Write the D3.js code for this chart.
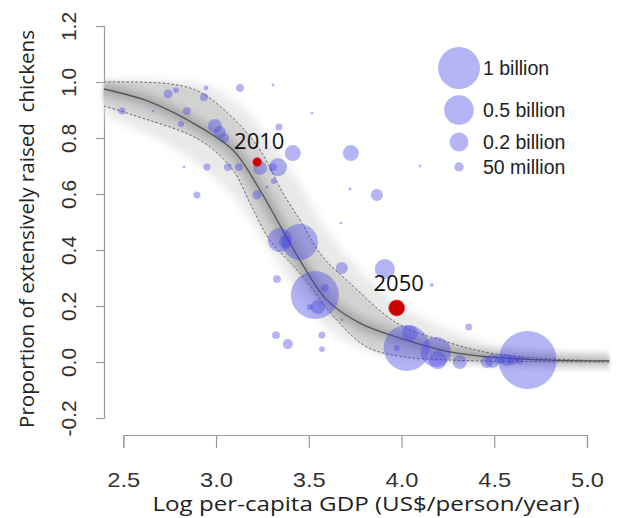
<!DOCTYPE html>
<html><head><meta charset="utf-8">
<script src="https://cdn.jsdelivr.net/npm/d3@7"></script>
<style>body{margin:0;background:#fff}svg{display:block}</style>
</head><body>
<svg id="chart" width="617" height="518"></svg>
<script>
// Axis ticks
const xTicks = [2.5, 3.0, 3.5, 4.0, 4.5, 5.0];
const yTicks = [-0.2, 0.0, 0.2, 0.4, 0.6, 0.8, 1.0, 1.2];

// Fitted curve (posterior median) and its credible bounds: [log GDP, proportion]
const medianCurve = [[2.396,0.975],[2.644,0.929],[2.913,0.839],[3.091,0.757],[3.237,0.614],[3.344,0.489],[3.452,0.364],[3.598,0.221],[3.775,0.139],[3.975,0.089],[4.261,0.036],[4.476,0.018],[4.80,0.007],[5.12,0.004]];
const upperBound = [[2.396,1.0],[2.752,0.993],[2.913,0.964],[3.091,0.871],[3.237,0.757],[3.360,0.604],[3.452,0.507],[3.576,0.375],[3.721,0.282],[3.975,0.139],[4.261,0.068],[4.476,0.032],[4.80,0.011],[5.12,0.004]];
const lowerBound = [[2.396,0.914],[2.552,0.882],[2.913,0.793],[3.091,0.686],[3.183,0.568],[3.290,0.436],[3.452,0.318],[3.651,0.150],[3.813,0.054],[3.991,0.021],[4.261,0.007],[5.12,0.0]];
// Faint spread of posterior draws
const upperSpread = [[2.396,1.0],[2.913,0.993],[3.129,0.918],[3.290,0.793],[3.452,0.632],[3.614,0.454],[3.775,0.329],[3.991,0.204],[4.261,0.114],[4.530,0.054],[5.12,0.014]];
const lowerSpread = [[2.396,0.879],[2.644,0.811],[2.913,0.704],[3.129,0.561],[3.290,0.400],[3.452,0.239],[3.614,0.114],[3.830,0.036],[4.100,0.004],[5.12,0.0]];

// Countries: log per-capita GDP, proportion extensive, chicken population
const countryGdp  = [2.493,2.660,2.741,2.784,2.946,2.935,3.129,3.307,2.843,2.811,2.994,3.021,3.043,3.339,3.517,3.414,3.727,3.334,3.237,3.307,3.064,3.123,2.951,2.827,3.312,3.274,2.897,3.220,3.722,3.673,3.344,3.452,3.371,3.867,3.678,3.910,4.163,3.328,3.533,3.587,3.549,3.506,3.323,3.387,3.571,3.571,3.678,4.028,4.045,3.975,4.185,4.196,4.314,4.362,4.491,4.567,4.599,4.637,4.680,4.099,4.460,4.530];
const countryProp = [0.896,0.896,0.957,0.971,0.979,0.946,0.979,0.989,0.896,0.850,0.843,0.821,0.800,0.839,0.889,0.746,0.746,0.696,0.693,0.696,0.696,0.696,0.696,0.696,0.646,0.625,0.596,0.596,0.618,0.496,0.436,0.429,0.429,0.596,0.336,0.332,0.275,0.296,0.239,0.264,0.196,0.196,0.096,0.064,0.096,0.046,0.150,0.050,0.104,0.050,0.036,0.007,0.000,0.125,0.004,0.007,0.007,0.007,0.007,0.700,0.000,0.011];
const countryPop  = [28e6,5e6,46e6,20e6,14e6,36e6,36e6,5e6,36e6,20e6,111e6,82e6,57e6,28e6,5e6,145e6,145e6,184e6,111e6,36e6,36e6,36e6,28e6,5e6,20e6,5e6,28e6,46e6,5e6,5e6,327e6,735e6,82e6,82e6,82e6,227e6,9e6,36e6,1306e6,36e6,111e6,20e6,36e6,57e6,28e6,20e6,5e6,1200e6,145e6,20e6,510e6,184e6,111e6,28e6,111e6,82e6,57e6,36e6,1907e6,5e6,82e6,57e6];

// Global aggregate for two years
const markerYears = ["2010", "2050"];
const markerGdp   = [3.222, 3.974];
const markerProp  = [0.714, 0.193];
const markerPop   = [46e6, 145e6];

// Size legend
const legendValues = [1e9, 5e8, 2e8, 5e7];
const legendLabels = ["1 billion", "0.5 billion", "0.2 billion", "50 million"];

const svg = d3.select("#chart");
const x = d3.scaleLinear().domain([2.5, 5.0]).range([123.3, 587]);
const y = d3.scaleLinear().domain([-0.2, 1.2]).range([418, 26]);
const r = d3.scaleSqrt().domain([0, 1e9]).range([0, 21]);
const fmt = d => d.toFixed(1);

const defs = svg.append("defs");
defs.append("filter").attr("id", "soft").attr("x", "-20%").attr("y", "-20%").attr("width", "140%").attr("height", "140%")
  .append("feGaussianBlur").attr("stdDeviation", 4);
defs.append("filter").attr("id", "soft2")
  .append("feGaussianBlur").attr("stdDeviation", 1.5);

const line = d3.line().x(d => x(d[0])).y(d => y(d[1])).curve(d3.curveCatmullRom.alpha(0.5));
function band(top, bottom) {
  return line(top) + line(bottom.slice().reverse()).replace(/^M/, "L") + "Z";
}

// Axes
const axisColor = "#9a9a9a";
const xAxis = svg.append("g").attr("transform", "translate(0,435)")
  .call(d3.axisBottom(x).tickValues(xTicks).tickFormat(fmt).tickSize(13).tickPadding(24));
const yAxis = svg.append("g").attr("transform", "translate(104,0)")
  .call(d3.axisLeft(y).tickValues(yTicks).tickFormat(fmt).tickSize(8).tickPadding(0));
[xAxis, yAxis].forEach(g => {
  g.select(".domain").attr("stroke", axisColor).attr("stroke-width", 1.2);
  g.selectAll(".tick line").attr("stroke", axisColor).attr("stroke-width", 1.2);
  g.selectAll("text").attr("fill", "#333").attr("font-family", "Liberation Sans, Arial, sans-serif").attr("font-size", 21);
});
xAxis.selectAll(".tick text").attr("textLength", 33).attr("lengthAdjust", "spacingAndGlyphs");
yAxis.selectAll(".tick text")
  .attr("x", 0).attr("dy", null)
  .attr("text-anchor", "middle")
  .attr("transform", "translate(-36,0) rotate(-90)")
  .attr("dominant-baseline", "central");

// Posterior spread
const plot = svg.append("g");
plot.append("path").attr("d", band(upperSpread, lowerSpread)).attr("fill", "#e9e9e9").attr("filter", "url(#soft)");
plot.append("path").attr("d", band(upperBound, lowerBound)).attr("fill", "#d2d2d2").attr("filter", "url(#soft2)");
[[22, 0.10], [14, 0.16], [7, 0.2]].forEach(([w, o]) => {
  plot.append("path").attr("d", line(medianCurve)).attr("fill", "none")
    .attr("stroke", "#777").attr("stroke-width", w).attr("stroke-opacity", o).attr("filter", "url(#soft2)");
});
[upperBound, lowerBound].forEach(c => {
  plot.append("path").attr("d", line(c)).attr("fill", "none")
    .attr("stroke", "#666").attr("stroke-width", 1).attr("stroke-dasharray", "2.5,2");
});
plot.append("path").attr("d", line(medianCurve)).attr("fill", "none")
  .attr("stroke", "#555").attr("stroke-width", 1.3);

// Country bubbles
const bubbleFill = "#4646e6", bubbleOpacity = 0.4;
const idx = d3.range(countryGdp.length).sort((a, b) => countryPop[b] - countryPop[a]);
plot.append("g").selectAll("circle").data(idx).join("circle")
  .attr("cx", i => x(countryGdp[i])).attr("cy", i => y(countryProp[i]))
  .attr("r", i => r(countryPop[i]))
  .attr("fill", bubbleFill).attr("fill-opacity", bubbleOpacity);

// Aggregate markers
const mk = plot.append("g");
mk.selectAll("circle").data(markerYears).join("circle")
  .attr("cx", (d, i) => x(markerGdp[i])).attr("cy", (d, i) => y(markerProp[i]))
  .attr("r", (d, i) => r(markerPop[i]))
  .attr("fill", "#cc0000").attr("stroke", "#e05050").attr("stroke-width", 0.8);
mk.selectAll("text").data(markerYears).join("text")
  .attr("x", (d, i) => x(markerGdp[i]) + 2).attr("y", (d, i) => y(markerProp[i]) - r(markerPop[i]) - 9)
  .attr("text-anchor", "middle")
  .attr("font-family", "Open Sans, sans-serif").attr("font-size", 22).attr("fill", "#111")
  .text(d => d);

// Legend
const lg = svg.append("g");
const legendY = [68, 110, 142, 167];
legendValues.forEach((v, i) => {
  lg.append("circle").attr("cx", 459).attr("cy", legendY[i]).attr("r", r(v))
    .attr("fill", bubbleFill).attr("fill-opacity", bubbleOpacity);
  lg.append("text").attr("x", 483).attr("y", legendY[i]).attr("dy", "0.36em")
    .attr("font-family", "Liberation Sans, Arial, sans-serif").attr("font-size", 19.5).attr("fill", "#222")
    .text(legendLabels[i]);
});

// Axis titles
svg.append("text").attr("x", 366).attr("y", 511).attr("text-anchor", "middle")
  .attr("font-family", "Open Sans, sans-serif").attr("font-size", 19.5).attr("fill", "#222")
  .attr("textLength", 427).attr("lengthAdjust", "spacingAndGlyphs")
  .text("Log per-capita GDP (US$/person/year)");
svg.append("text").attr("transform", "translate(34,229) rotate(-90)").attr("text-anchor", "middle")
  .attr("font-family", "Open Sans, sans-serif").attr("font-size", 20).attr("fill", "#222")
  .attr("textLength", 398).attr("lengthAdjust", "spacingAndGlyphs")
  .style("white-space", "pre")
  .text("Proportion of extensively raised  chickens");
</script>
</body></html>
